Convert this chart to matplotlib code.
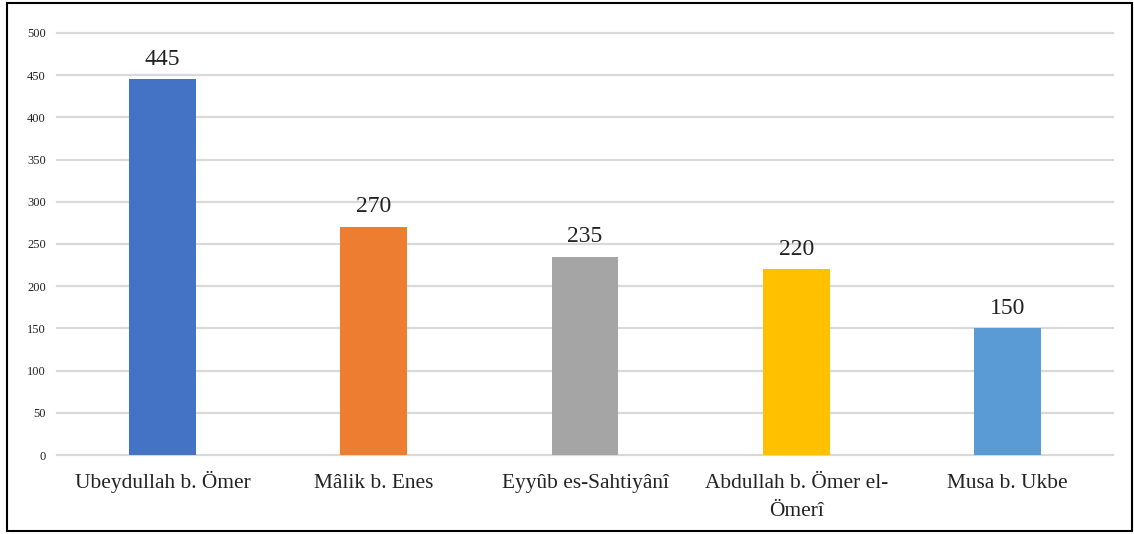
import numpy as np
import matplotlib.pyplot as plt
from matplotlib.patches import Rectangle
from matplotlib.transforms import ScaledTranslation

# data
categories = ['Ubeydullah b. Ömer', 'Mâlik b. Enes', 'Eyyûb es-Sahtiyânî',
              'Abdullah b. Ömer el-\nÖmerî', 'Musa b. Ukbe']
values = [445, 270, 235, 220, 150]
colors = ['#4472C4', '#ED7D31', '#A5A5A5', '#FFC000', '#5B9BD5']
yticks = [0, 50, 100, 150, 200, 250, 300, 350, 400, 450, 500]

plt.rcParams['font.family'] = ['Liberation Serif', 'DejaVu Serif']

fig = plt.figure(figsize=(11.34, 5.34), dpi=100)
ax = fig.add_axes([57/1134, 79/534, 1056/1134, 422/534])

x = np.arange(len(categories))
ax.bar(x, values, width=0.317, color=colors, zorder=3)

for xi, v in zip(x, values):
    ax.annotate(str(v), (xi, v), xytext=(0, 7), textcoords='offset points',
                ha='center', va='bottom', fontsize=17, color='#222222')

ax.set_xlim(-0.5, len(categories) - 0.5)
ax.set_ylim(0, 500)
ax.set_yticks(yticks)
ax.set_xticks(x)
ax.set_xticklabels([])
ax.tick_params(axis='y', labelsize=9, length=0, pad=8, labelcolor='#222222')
ax.tick_params(axis='x', length=0)

# category labels: baseline of the last line sits below the axis
for xi, lab in zip(x, categories):
    nlines = lab.count('\n') + 1
    off = ScaledTranslation(0, -(0.33 + 0.28 * (nlines - 1)), fig.dpi_scale_trans)
    ax.text(xi, 0, lab, transform=ax.get_xaxis_transform() + off,
            ha='center', va='baseline', fontsize=15.4, color='#222222',
            linespacing=1.64, multialignment='center')

ax.yaxis.grid(True, color='#d9d9d9', linewidth=1.6, zorder=0)
for gl in ax.get_ygridlines():
    gl.set_clip_on(False)
for s in ax.spines.values():
    s.set_visible(False)

# outer frame
fig.patches.append(Rectangle((7/1134, 3/534), 1125/1134, 528/534,
                             transform=fig.transFigure, fill=False,
                             edgecolor='black', linewidth=1.5))

fig.savefig('out.png', dpi=100)
